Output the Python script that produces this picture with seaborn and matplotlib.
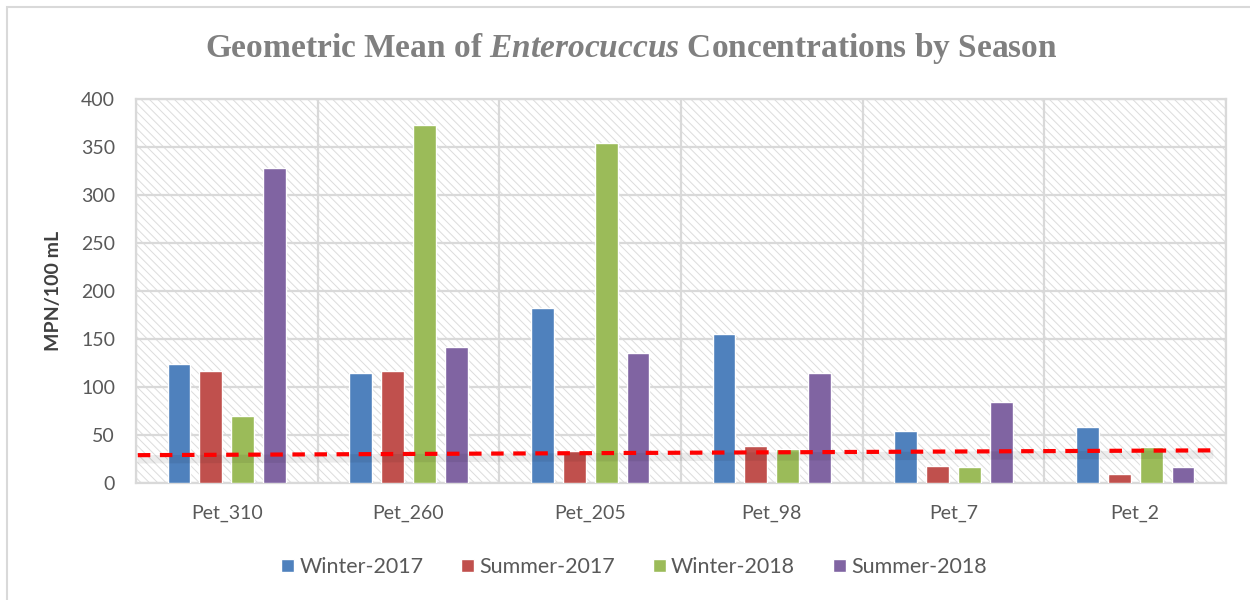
import pandas as pd
import matplotlib
matplotlib.use('Agg')
import matplotlib.pyplot as plt
import matplotlib.transforms as mtransforms
from matplotlib.patches import Rectangle
import seaborn as sns

sns.set_theme(style='white')
plt.rcParams['font.family'] = ['Lato', 'DejaVu Sans']
plt.rcParams['mathtext.fontset'] = 'custom'
plt.rcParams['mathtext.it'] = 'Liberation Serif:italic:bold'
plt.rcParams['hatch.linewidth'] = 0.7

# data
sites = ['Pet_310', 'Pet_260', 'Pet_205', 'Pet_98', 'Pet_7', 'Pet_2']
seasons = ['Winter-2017', 'Summer-2017', 'Winter-2018', 'Summer-2018']
winter_2017 = [124, 115, 182, 155, 54, 58]
summer_2017 = [117, 117, 33, 39, 18, 9]
winter_2018 = [70, 373, 354, 35, 17, 37]
summer_2018 = [328, 142, 135, 115, 84, 17]
trend_x = [-0.49, 5.43]
trend_y = [29, 34]

colors = ['#4F81BD', '#C0504D', '#9BBB59', '#8064A2']

df = pd.DataFrame({
    'site': sites * 4,
    'season': [s for s in seasons for _ in sites],
    'value': winter_2017 + summer_2017 + winter_2018 + summer_2018,
})

fig = plt.figure(figsize=(12.5, 6), dpi=100)
ax = fig.add_subplot(111)
fig.subplots_adjust(left=0.1088, right=0.9808, top=0.835, bottom=0.195)

# hatched plot background
ax.patch.set_facecolor('white')
ax.patch.set_edgecolor('#DCDCDC')
ax.patch.set_hatch('\\\\\\\\')

sns.barplot(data=df, x='site', y='value', hue='season', order=sites,
            hue_order=seasons, palette=colors, width=0.704, gap=0.29,
            saturation=1, ax=ax, legend=True, zorder=3)

# trend line with soft shadow
shadow = mtransforms.offset_copy(ax.transData, fig=fig, x=0, y=-3, units='points')
ax.plot(trend_x, trend_y, color='black', alpha=0.07, lw=6, transform=shadow,
        zorder=4, solid_capstyle='butt')
ax.plot(trend_x, trend_y, color='#FF0000', lw=3, ls=(0, (3, 2.3)), zorder=5)

ax.set_xlim(-0.5, len(sites) - 0.5)
ax.set_ylim(0, 400)
ax.set_yticks(range(0, 401, 50))
ax.set_xticks([i - 0.5 for i in range(len(sites) + 1)], minor=True)
ax.set_axisbelow(True)
ax.grid(axis='y', which='major', color='#D9D9D9', lw=1.6)
ax.grid(axis='x', which='minor', color='#D9D9D9', lw=1.6)
ax.grid(axis='x', which='major', visible=False)
ax.tick_params(which='both', length=0)
ax.tick_params(axis='y', labelsize=14, labelcolor='#595959', pad=15)
ax.tick_params(axis='x', labelsize=14, labelcolor='#595959', pad=16)
for s in ax.spines.values():
    s.set_color('#D9D9D9')
    s.set_linewidth(1.6)

ax.set_xlabel('')
ax.set_ylabel('MPN/100 mL', fontsize=14, fontweight='bold', color='#404040', labelpad=14)

fig.suptitle(r'Geometric Mean of $\mathit{Enterocuccus}$ Concentrations by Season',
             x=0.505, y=0.948, fontsize=24, fontweight='bold', color='#808080',
             family='Liberation Serif')

handles, labels = ax.get_legend_handles_labels()
ax.get_legend().remove()
fig.legend(handles, labels, loc='center', bbox_to_anchor=(0.507, 0.055), ncol=4,
           frameon=False, fontsize=15.5, labelcolor='#595959', handlelength=0.6,
           handleheight=0.6, handletextpad=0.25, columnspacing=1.75)

# light outer frame of the chart
fig.patches.append(Rectangle((7 / 1250, -0.05), 1.1, 1 - 7 / 600 + 0.05,
                             transform=fig.transFigure, fill=False,
                             edgecolor='#D9D9D9', lw=1.5))

fig.savefig('out.png', dpi=100)
